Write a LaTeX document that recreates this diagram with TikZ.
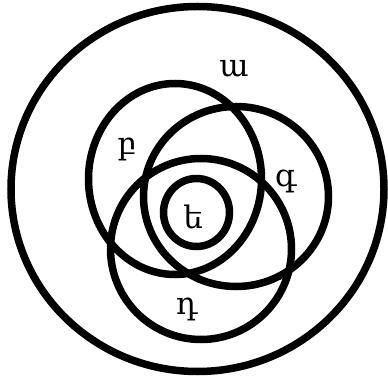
\documentclass[tikz,border=0pt]{standalone}
\usepackage{fontspec}
\setmainfont{DejaVu Serif}
\begin{document}
\begin{tikzpicture}[x=1pt,y=-1pt,set/.style={line width=7.5pt},lbl/.style={font=\fontsize{31}{34}\selectfont,inner sep=0pt}]
\useasboundingbox (0,0) rectangle (388,379);
\coordinate (U) at (197.5,189); \coordinate (B) at (175,179); \coordinate (G) at (236,196.5);
\coordinate (D) at (201,249); \coordinate (E) at (196.5,212.5);
\draw[set] (U) ellipse [x radius=186.5, y radius=182.5];
\draw[set] (B) ellipse [x radius=86.5, y radius=95.5];
\draw[set] (G) ellipse [x radius=92.5, y radius=90];
\draw[set] (D) ellipse [x radius=90.5, y radius=90.5];
\draw[set] (E) ellipse [x radius=33, y radius=34];
\node[lbl] (a) at (234,69) {ա};
\node[lbl] (b) at (127,149) {բ};
\node[lbl] (g) at (286,181) {գ};
\node[lbl] (d) at (187,309) {դ};
\node[lbl] (e) at (193,217) {ե};
\end{tikzpicture}
\end{document}
